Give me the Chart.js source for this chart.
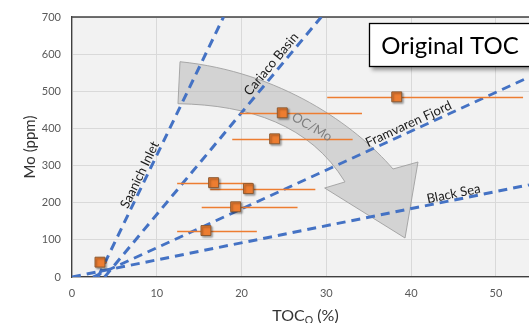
<!DOCTYPE html>
<html><head><meta charset="utf-8">
<script src="https://cdn.jsdelivr.net/npm/chart.js@4.4.1/dist/chart.umd.min.js"></script>
<style>html,body{margin:0;padding:0;background:#fff;overflow:hidden}canvas{display:block}</style>
</head><body><canvas id="c" width="529" height="323"></canvas>
<script>
// ---- data ----
const tocValues = [3.3, 15.8, 19.3, 16.7, 20.8, 23.9, 24.8, 38.3];
const moValues  = [40, 125, 189, 254, 238, 372, 442, 485];
const tocLow    = [3.0, 12.4, 15.3, 12.4, 16.3, 18.9, 19.8, 30.1];
const tocHigh   = [4.1, 21.8, 26.6, 21.3, 28.7, 33.1, 34.2, 53.2];

const lineNames   = ['Saanich Inlet', 'Cariaco Basin', 'Framvaren Fjord', 'Black Sea'];
const lineTocFrom = [3.07, 3.85, 2.48, 0];
const lineMoFrom  = [0, 0, 0, 0];
const lineTocTo   = [17.87, 29.4, 53.9, 53.9];
const lineMoTo    = [700, 700, 538, 248];
const labelToc    = [8.0, 23.5, 39.7, 45.0];
const labelMo     = [275, 573, 412, 224];

const xTicks = [0, 10, 20, 30, 40, 50];
const yTicks = [0, 100, 200, 300, 400, 500, 600, 700];

const arrowText = 'OC/Mo';
const arrowTextAt = [28.3, 404];
const arrowPath = [
  ['M', 12.74, 579.6],
  ['C', 24.53, 552.7, 33.38, 409.3, 37.86, 290.8],
  ['L', 40.81, 309.6],
  ['L', 39.28, 105.0],
  ['L', 29.8, 239.6],
  ['L', 32.2, 256.0],
  ['C', 28.07, 409.3, 20.99, 463.1, 12.5, 466.6],
  ['Z']
];
const boxText = 'Original TOC';
const xTitle = ['TOC', 'O', ' (%)'];
const yTitle = 'Mo (ppm)';

const FONT = 'Lato, "Open Sans", sans-serif';
const BLUE = '#4472C4';
const ORANGE = '#ED7D31';

const lineDatasets = lineNames.map((n, i) => ({
  type: 'line',
  label: n,
  data: [{x: lineTocFrom[i], y: lineMoFrom[i]}, {x: lineTocTo[i], y: lineMoTo[i]}],
  borderColor: BLUE,
  borderWidth: 3,
  borderDash: [9, 6],
  borderCapStyle: 'butt',
  pointRadius: 0,
  fill: false,
  tension: 0
}));

const scatterDataset = {
  type: 'scatter',
  label: 'samples',
  data: tocValues.map((v, i) => ({x: v, y: moValues[i]})),
  pointStyle: 'rect',
  pointRadius: 7,
  backgroundColor: ORANGE,
  borderColor: '#8c5a32',
  borderWidth: 1,
  clip: false
};

const overlay = {
  id: 'overlay',
  beforeDraw(chart) {
    const {ctx, chartArea: a} = chart;
    ctx.save();
    ctx.fillStyle = '#f2f2f2';
    ctx.fillRect(a.left, a.top, a.right - a.left, a.bottom - a.top);
    ctx.restore();
  },
  beforeDatasetsDraw(chart) {
    const {ctx, scales: {x, y}, chartArea: a} = chart;
    ctx.save();
    ctx.strokeStyle = '#404040';
    ctx.lineWidth = 1.3;
    ctx.beginPath();
    ctx.moveTo(a.left, a.top);
    ctx.lineTo(a.right, a.top);
    ctx.stroke();
    ctx.beginPath();
    arrowPath.forEach(s => {
      const p = [];
      for (let k = 1; k < s.length; k += 2) p.push(x.getPixelForValue(s[k]), y.getPixelForValue(s[k + 1]));
      if (s[0] === 'M') ctx.moveTo(p[0], p[1]);
      else if (s[0] === 'L') ctx.lineTo(p[0], p[1]);
      else if (s[0] === 'C') ctx.bezierCurveTo(p[0], p[1], p[2], p[3], p[4], p[5]);
      else ctx.closePath();
    });
    ctx.fillStyle = 'rgba(185,185,185,0.55)';
    ctx.fill();
    ctx.strokeStyle = 'rgba(160,160,160,0.9)';
    ctx.lineWidth = 1;
    ctx.stroke();
    ctx.restore();
  },
  beforeDatasetDraw(chart, args) {
    if (args.meta.type !== 'scatter') return;
    const {ctx, scales: {x, y}} = chart;
    ctx.save();
    ctx.strokeStyle = ORANGE;
    ctx.lineWidth = 1.5;
    tocValues.forEach((v, i) => {
      const py = Math.round(y.getPixelForValue(moValues[i])) + 0.5;
      ctx.beginPath();
      ctx.moveTo(x.getPixelForValue(tocLow[i]), py);
      ctx.lineTo(x.getPixelForValue(tocHigh[i]), py);
      ctx.stroke();
    });
    ctx.restore();
    ctx.save();
    ctx.shadowColor = 'rgba(0,0,0,0.35)';
    ctx.shadowOffsetX = 1.5;
    ctx.shadowOffsetY = 1.5;
    ctx.shadowBlur = 2;
  },
  afterDatasetDraw(chart, args) {
    if (args.meta.type !== 'scatter') return;
    chart.ctx.restore();
  },
  afterDatasetsDraw(chart) {
    const {ctx, scales: {x, y}} = chart;
    ctx.save();
    ctx.textAlign = 'center';
    ctx.textBaseline = 'middle';
    ctx.fillStyle = '#1a1a1a';
    ctx.font = '13px ' + FONT;
    lineNames.forEach((n, i) => {
      const dx = x.getPixelForValue(lineTocTo[i]) - x.getPixelForValue(lineTocFrom[i]);
      const dy = y.getPixelForValue(lineMoTo[i]) - y.getPixelForValue(lineMoFrom[i]);
      ctx.save();
      ctx.translate(x.getPixelForValue(labelToc[i]), y.getPixelForValue(labelMo[i]));
      ctx.rotate(Math.atan2(dy, dx));
      ctx.fillText(n, 0, 0);
      ctx.restore();
    });
    ctx.save();
    ctx.fillStyle = '#7f7f7f';
    ctx.translate(x.getPixelForValue(arrowTextAt[0]), y.getPixelForValue(arrowTextAt[1]));
    ctx.rotate(30 * Math.PI / 180);
    ctx.fillText(arrowText, 0, 0);
    ctx.restore();
    ctx.save();
    ctx.shadowColor = 'rgba(0,0,0,0.4)';
    ctx.shadowOffsetX = 2;
    ctx.shadowOffsetY = 3;
    ctx.shadowBlur = 4;
    ctx.fillStyle = '#fff';
    ctx.fillRect(369.5, 23.5, 165, 43);
    ctx.restore();
    ctx.strokeStyle = '#000';
    ctx.lineWidth = 1.3;
    ctx.strokeRect(369.5, 23.5, 165, 43);
    ctx.fillStyle = '#000';
    ctx.font = '24px ' + FONT;
    ctx.fillText(boxText, 450, 46);
    ctx.save();
    ctx.fillStyle = '#333';
    ctx.font = '15px ' + FONT;
    ctx.translate(30, 147);
    ctx.rotate(-Math.PI / 2);
    ctx.fillText(yTitle, 0, 0);
    ctx.restore();
    ctx.fillStyle = '#333';
    ctx.textAlign = 'left';
    ctx.textBaseline = 'alphabetic';
    const big = '16px ' + FONT, small = '10.5px ' + FONT;
    ctx.font = big; const w0 = ctx.measureText(xTitle[0]).width;
    ctx.font = small; const w1 = ctx.measureText(xTitle[1]).width;
    ctx.font = big; const w2 = ctx.measureText(xTitle[2]).width;
    let sx = 305.5 - (w0 + w1 + w2) / 2;
    const base = 321;
    ctx.font = big; ctx.fillText(xTitle[0], sx, base); sx += w0;
    ctx.font = small; ctx.fillText(xTitle[1], sx, base + 3); sx += w1;
    ctx.font = big; ctx.fillText(xTitle[2], sx, base);
    ctx.restore();
  }
};

new Chart(document.getElementById('c'), {
  type: 'scatter',
  data: {datasets: [scatterDataset, ...lineDatasets]},
  plugins: [overlay],
  options: {
    responsive: false,
    animation: false,
    layout: {autoPadding: false, padding: {top: 17, right: 0, bottom: 0, left: 0}},
    plugins: {legend: {display: false}, tooltip: {enabled: false}},
    scales: {
      x: {
        type: 'linear', min: 0, max: 53.9,
        afterBuildTicks: s => { s.ticks = xTicks.map(v => ({value: v})); },
        afterFit: s => { s.height = 46; s.paddingLeft = 0; s.paddingRight = 0; },
        grid: {color: '#d9d9d9', lineWidth: 1, drawTicks: false},
        border: {color: '#404040', width: 1.3},
        ticks: {padding: 10, color: '#595959', font: {family: FONT, size: 11}, maxRotation: 0}
      },
      y: {
        type: 'linear', min: 0, max: 700,
        afterBuildTicks: s => { s.ticks = yTicks.map(v => ({value: v})); },
        afterFit: s => { s.width = 72; s.paddingTop = 0; s.paddingBottom = 0; },
        grid: {color: '#d9d9d9', lineWidth: 1, drawTicks: false},
        border: {color: '#404040', width: 1.3},
        ticks: {padding: 11, color: '#595959', font: {family: FONT, size: 11}}
      }
    }
  }
});
</script></body></html>
